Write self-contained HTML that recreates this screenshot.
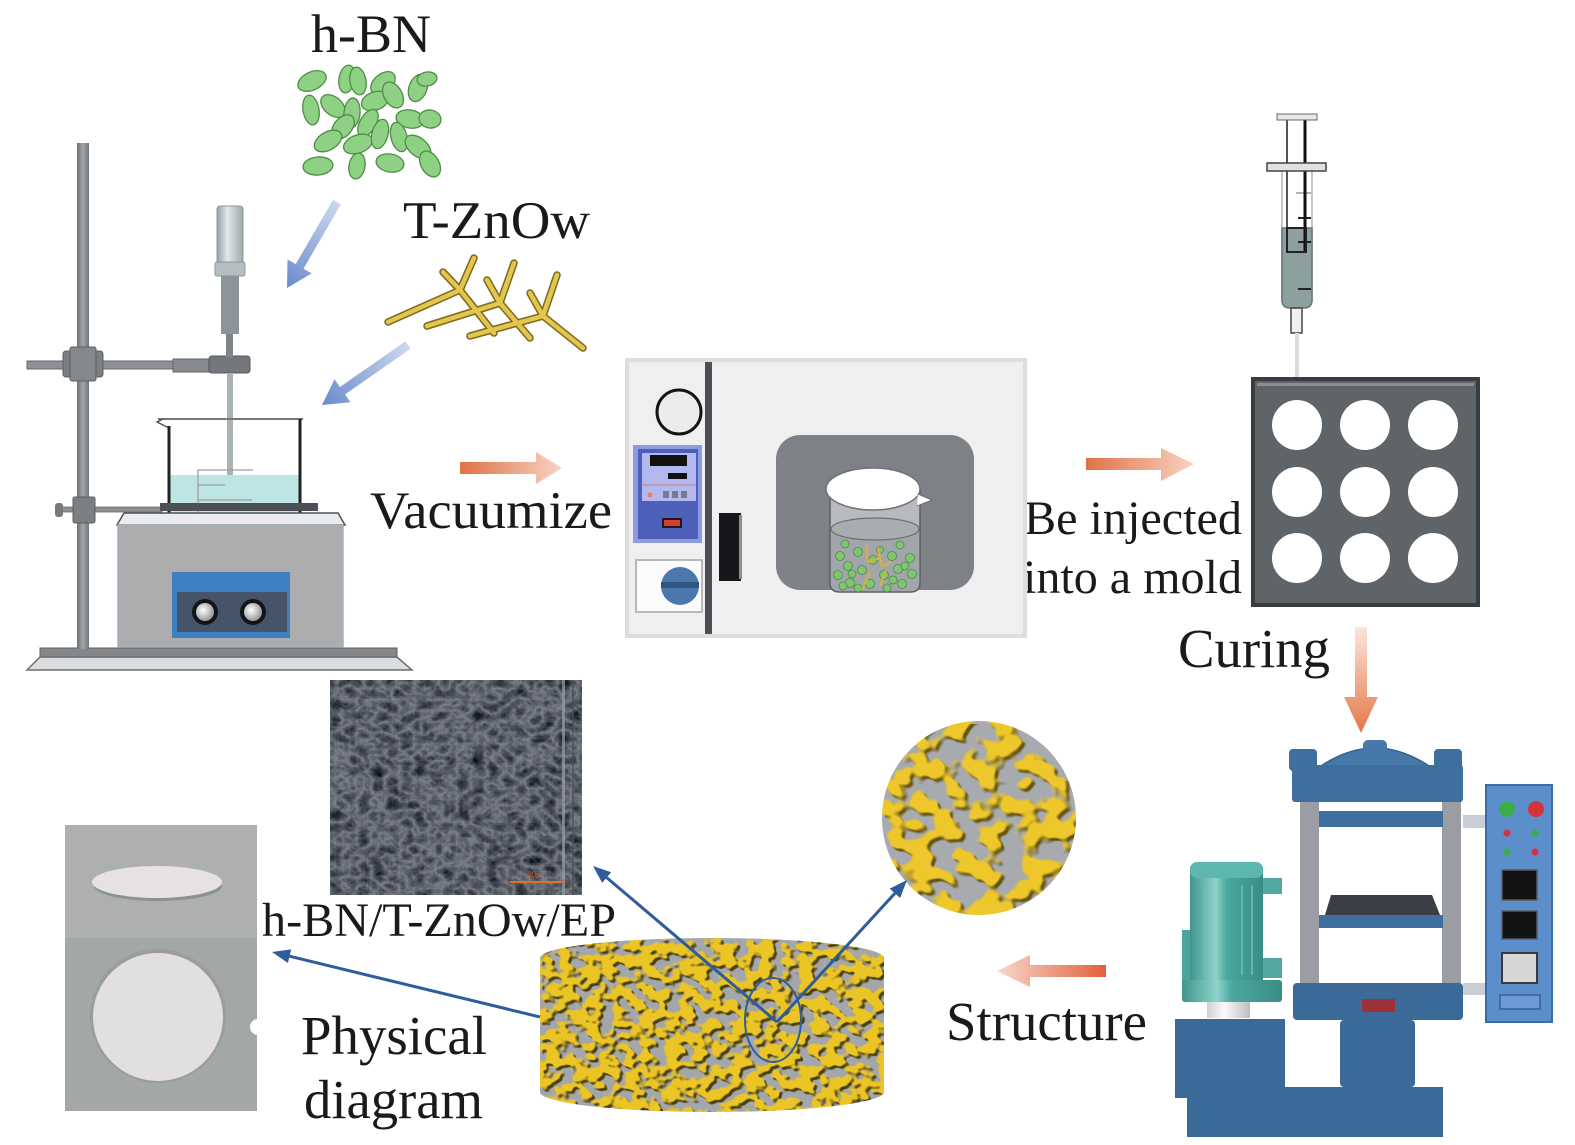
<!DOCTYPE html>
<html>
<head>
<meta charset="utf-8">
<style>
  html,body{margin:0;padding:0;background:#fff;}
  svg{display:block;}
  text{font-family:"Liberation Serif",serif;fill:#1a1a1a;}
</style>
</head>
<body>
<svg width="1575" height="1145" viewBox="0 0 1575 1145" xmlns="http://www.w3.org/2000/svg">
<defs>
  <linearGradient id="orR" x1="0" x2="1" y1="0" y2="0">
    <stop offset="0" stop-color="#e07246"/><stop offset="1" stop-color="#f7d3c3"/>
  </linearGradient>
  <linearGradient id="orL" x1="0" x2="1" y1="0" y2="0">
    <stop offset="0" stop-color="#f8d8ca"/><stop offset="1" stop-color="#e2603c"/>
  </linearGradient>
  <linearGradient id="orD" x1="0" x2="0" y1="0" y2="1">
    <stop offset="0" stop-color="#fbe6dc"/><stop offset="1" stop-color="#e4764a"/>
  </linearGradient>
  <linearGradient id="blA" gradientUnits="userSpaceOnUse" x1="337" y1="202" x2="287" y2="288">
    <stop offset="0" stop-color="#ccd8f0"/><stop offset="1" stop-color="#6a8bcc"/>
  </linearGradient>
  <linearGradient id="blB" gradientUnits="userSpaceOnUse" x1="408" y1="345" x2="322" y2="405">
    <stop offset="0" stop-color="#ccd8f0"/><stop offset="1" stop-color="#6a8bcc"/>
  </linearGradient>
  <linearGradient id="stir" x1="0" x2="1" y1="0" y2="0">
    <stop offset="0" stop-color="#97a1a5"/><stop offset="0.4" stop-color="#e2e8e9"/><stop offset="1" stop-color="#9ea8ab"/>
  </linearGradient>
  <linearGradient id="rod" x1="0" x2="1" y1="0" y2="0">
    <stop offset="0" stop-color="#6e7175"/><stop offset="0.5" stop-color="#a3a6a9"/><stop offset="1" stop-color="#727579"/>
  </linearGradient>
  <linearGradient id="motor" x1="0" x2="1" y1="0" y2="0">
    <stop offset="0" stop-color="#3f958c"/><stop offset="0.35" stop-color="#8fd3ca"/><stop offset="0.5" stop-color="#4aa89e"/><stop offset="1" stop-color="#3a8d85"/>
  </linearGradient>
  <linearGradient id="wbase" x1="0" x2="1" y1="0" y2="0">
    <stop offset="0" stop-color="#d0d0d0"/><stop offset="0.4" stop-color="#fafafa"/><stop offset="1" stop-color="#bdbdbd"/>
  </linearGradient>
  <radialGradient id="knob" cx="0.4" cy="0.4" r="0.6">
    <stop offset="0" stop-color="#ffffff"/><stop offset="1" stop-color="#9a9a9a"/>
  </radialGradient>

  <filter id="goldA" x="0" y="0" width="100%" height="100%" color-interpolation-filters="sRGB">
    <feTurbulence type="fractalNoise" baseFrequency="0.075 0.09" numOctaves="2" seed="11" result="n"/>
    <feColorMatrix in="n" type="matrix" values="0 0 0 0 0.92  0 0 0 0 0.77  0 0 0 0 0.15  11 0 0 0 -4.85" result="g"/>
    <feColorMatrix in="n" type="matrix" values="0 0 0 0 0.30  0 0 0 0 0.25  0 0 0 0 0.04  11 0 0 0 -4.85" result="d"/>
    <feOffset in="d" dx="2.5" dy="2.5" result="ds"/>
    <feFlood flood-color="#a3a6ab" result="bg"/>
    <feMerge result="m"><feMergeNode in="bg"/><feMergeNode in="ds"/><feMergeNode in="g"/></feMerge>
    <feComposite in="m" in2="SourceGraphic" operator="in"/>
  </filter>
  <filter id="goldB" x="0" y="0" width="100%" height="100%" color-interpolation-filters="sRGB">
    <feTurbulence type="fractalNoise" baseFrequency="0.045 0.05" numOctaves="2" seed="5" result="n"/>
    <feColorMatrix in="n" type="matrix" values="0 0 0 0 0.93  0 0 0 0 0.78  0 0 0 0 0.17  11 0 0 0 -5.2" result="g"/>
    <feColorMatrix in="n" type="matrix" values="0 0 0 0 0.40  0 0 0 0 0.33  0 0 0 0 0.05  11 0 0 0 -5.2" result="d"/>
    <feOffset in="d" dx="3" dy="3" result="ds"/>
    <feFlood flood-color="#a7aaae" result="bg"/>
    <feMerge result="m"><feMergeNode in="bg"/><feMergeNode in="ds"/><feMergeNode in="g"/></feMerge>
    <feComposite in="m" in2="SourceGraphic" operator="in"/>
  </filter>
  <filter id="sem" x="0" y="0" width="100%" height="100%" color-interpolation-filters="sRGB">
    <feTurbulence type="turbulence" baseFrequency="0.07 0.09" numOctaves="4" seed="3" result="n"/>
    <feColorMatrix in="n" type="matrix" values="-0.55 0 0 0 0.52  -0.55 0 0 0 0.54  -0.55 0 0 0 0.58  0 0 0 0 1" result="c"/>
    <feComposite in="c" in2="SourceGraphic" operator="in"/>
  </filter>
</defs>

<rect x="0" y="0" width="1575" height="1145" fill="#ffffff"/>

<!-- ================= TEXT LABELS ================= -->
<text x="311" y="52" font-size="54" textLength="120" lengthAdjust="spacingAndGlyphs">h-BN</text>
<text x="403" y="238" font-size="53" textLength="187" lengthAdjust="spacingAndGlyphs">T-ZnOw</text>
<text x="370" y="528" font-size="53" textLength="242" lengthAdjust="spacingAndGlyphs">Vacuumize</text>
<text x="1024" y="534" font-size="48" textLength="218" lengthAdjust="spacingAndGlyphs">Be injected</text>
<text x="1023" y="593" font-size="48" textLength="219" lengthAdjust="spacingAndGlyphs">into a mold</text>
<text x="1178" y="667" font-size="55" textLength="152" lengthAdjust="spacingAndGlyphs">Curing</text>
<text x="262" y="936" font-size="48" textLength="354" lengthAdjust="spacingAndGlyphs">h-BN/T-ZnOw/EP</text>
<text x="946" y="1040" font-size="55" textLength="201" lengthAdjust="spacingAndGlyphs">Structure</text>
<text x="301" y="1054" font-size="55" textLength="186" lengthAdjust="spacingAndGlyphs">Physical</text>
<text x="304" y="1118" font-size="55" textLength="179" lengthAdjust="spacingAndGlyphs">diagram</text>

<!-- ================= h-BN particles ================= -->
<g fill="#8fd184" stroke="#4f8c46" stroke-width="1.3">
  <ellipse cx="312" cy="81" rx="15" ry="9" transform="rotate(-25 312 81)"/>
  <ellipse cx="347" cy="79" rx="8" ry="14" transform="rotate(10 347 79)"/>
  <ellipse cx="358" cy="81" rx="8" ry="14" transform="rotate(-10 358 81)"/>
  <ellipse cx="383" cy="83" rx="14" ry="9" transform="rotate(-40 383 83)"/>
  <ellipse cx="418" cy="88" rx="9" ry="14" transform="rotate(20 418 88)"/>
  <ellipse cx="427" cy="79" rx="10" ry="7" transform="rotate(-10 427 79)"/>
  <ellipse cx="311" cy="110" rx="8" ry="15" transform="rotate(-10 311 110)"/>
  <ellipse cx="333" cy="106" rx="14" ry="9" transform="rotate(40 333 106)"/>
  <ellipse cx="352" cy="113" rx="8" ry="15" transform="rotate(5 352 113)"/>
  <ellipse cx="375" cy="101" rx="14" ry="9" transform="rotate(-20 375 101)"/>
  <ellipse cx="393" cy="95" rx="9" ry="14" transform="rotate(-30 393 95)"/>
  <ellipse cx="368" cy="123" rx="8" ry="15" transform="rotate(30 368 123)"/>
  <ellipse cx="343" cy="127" rx="14" ry="9" transform="rotate(-50 343 127)"/>
  <ellipse cx="410" cy="119" rx="14" ry="9" transform="rotate(10 410 119)"/>
  <ellipse cx="430" cy="119" rx="11" ry="9" transform="rotate(10 430 119)"/>
  <ellipse cx="328" cy="141" rx="15" ry="9" transform="rotate(-30 328 141)"/>
  <ellipse cx="358" cy="144" rx="15" ry="9" transform="rotate(-20 358 144)"/>
  <ellipse cx="380" cy="134" rx="8" ry="15" transform="rotate(15 380 134)"/>
  <ellipse cx="399" cy="137" rx="8" ry="15" transform="rotate(-15 399 137)"/>
  <ellipse cx="418" cy="147" rx="15" ry="9" transform="rotate(40 418 147)"/>
  <ellipse cx="318" cy="166" rx="15" ry="9" transform="rotate(-5 318 166)"/>
  <ellipse cx="357" cy="166" rx="8" ry="13" transform="rotate(10 357 166)"/>
  <ellipse cx="390" cy="163" rx="14" ry="9" transform="rotate(10 390 163)"/>
  <ellipse cx="430" cy="164" rx="9" ry="14" transform="rotate(-30 430 164)"/>
</g>

<!-- ================= T-ZnOw tetrapods ================= -->
<g stroke-linecap="round">
  <g stroke="#7e6a1c" stroke-width="7.5">
    <line x1="388" y1="322" x2="460" y2="290"/><line x1="460" y1="290" x2="474" y2="258"/><line x1="460" y1="290" x2="443" y2="272"/><line x1="460" y1="290" x2="494" y2="333"/>
    <line x1="427" y1="326" x2="500" y2="303"/><line x1="500" y1="303" x2="514" y2="263"/><line x1="500" y1="303" x2="487" y2="280"/><line x1="500" y1="303" x2="530" y2="338"/>
    <line x1="470" y1="336" x2="543" y2="316"/><line x1="543" y1="316" x2="557" y2="275"/><line x1="543" y1="316" x2="530" y2="293"/><line x1="543" y1="316" x2="583" y2="348"/>
  </g>
  <g stroke="#e3c650" stroke-width="4.5">
    <line x1="388" y1="322" x2="460" y2="290"/><line x1="460" y1="290" x2="474" y2="258"/><line x1="460" y1="290" x2="443" y2="272"/><line x1="460" y1="290" x2="494" y2="333"/>
    <line x1="427" y1="326" x2="500" y2="303"/><line x1="500" y1="303" x2="514" y2="263"/><line x1="500" y1="303" x2="487" y2="280"/><line x1="500" y1="303" x2="530" y2="338"/>
    <line x1="470" y1="336" x2="543" y2="316"/><line x1="543" y1="316" x2="557" y2="275"/><line x1="543" y1="316" x2="530" y2="293"/><line x1="543" y1="316" x2="583" y2="348"/>
  </g>
</g>

<!-- light blue arrows -->
<polygon points="333.1,199.7 340.9,204.3 303.5,268.7 311.7,273.4 287,288 287.5,259.4 295.7,264.1" fill="url(#blA)"/>
<polygon points="405.4,341.3 410.6,348.7 345.1,394.4 350.5,402.2 322,405 334.5,379.2 339.9,387.0" fill="url(#blB)"/>

<!-- ================= LEFT APPARATUS ================= -->
<path d="M40,657 L27,670 L412,670 L397,657 Z" fill="#dcddde" stroke="#6b6e71" stroke-width="1.5"/>
<rect x="40" y="648" width="357" height="9" fill="#85888b" stroke="#5f6265" stroke-width="1"/>
<rect x="77" y="143" width="12" height="506" fill="url(#rod)"/>
<rect x="27" y="361" width="150" height="8" fill="#8c8f93" stroke="#676a6e" stroke-width="1"/>
<rect x="63" y="351" width="40" height="26" rx="3" fill="#7b7e82" stroke="#5c5f63" stroke-width="1"/>
<rect x="70" y="347" width="26" height="34" rx="2" fill="#85888c" stroke="#5c5f63" stroke-width="1"/>
<rect x="173" y="359" width="40" height="13" fill="#86898d" stroke="#626569" stroke-width="1"/>
<rect x="209" y="356" width="41" height="17" rx="3" fill="#74777b" stroke="#55585c" stroke-width="1"/>
<rect x="217" y="206" width="26" height="58" rx="3" fill="url(#stir)" stroke="#8d979a" stroke-width="1"/>
<rect x="215" y="262" width="30" height="14" rx="2" fill="#b5bdc0" stroke="#8d979a" stroke-width="1"/>
<rect x="221" y="276" width="18" height="58" fill="#8c969a"/>
<rect x="226" y="334" width="7" height="24" fill="#7e8589"/>
<rect x="227" y="373" width="6" height="150" fill="#aab1b4"/>
<rect x="170" y="475" width="130" height="48" fill="#bde5e3"/>
<path d="M158,419 L303,419" stroke="#777" stroke-width="2"/>
<path d="M163,419 L157,422 L169,428" fill="none" stroke="#555" stroke-width="1.5"/>
<line x1="169" y1="426" x2="169" y2="523" stroke="#222" stroke-width="3"/>
<line x1="300" y1="419" x2="300" y2="523" stroke="#222" stroke-width="3"/>
<g stroke="#9a9c9e" stroke-width="1.2" fill="none">
  <path d="M198,520 L198,470 L253,470"/><path d="M198,485 L225,485"/><path d="M198,500 L252,500"/>
</g>
<rect x="62" y="507" width="100" height="5" fill="#8c8f93" stroke="#676a6e" stroke-width="0.8"/>
<rect x="55" y="503" width="8" height="14" rx="3" fill="#76797d"/>
<rect x="73" y="497" width="22" height="26" rx="2" fill="#7b7e82" stroke="#5c5f63" stroke-width="1"/>
<rect x="160" y="503" width="158" height="8" fill="#4c4f53"/>
<path d="M117,525 L124,513 L338,513 L345,525 Z" fill="#ececec" stroke="#4e5155" stroke-width="1.5"/>
<rect x="118" y="525" width="225" height="122" fill="#adadae" stroke="#9fb0c2" stroke-width="1.5"/>
<rect x="172" y="572" width="118" height="66" fill="#3f80c2"/>
<rect x="177" y="592" width="110" height="40" fill="#46546a"/>
<circle cx="205" cy="612" r="13" fill="#151515"/>
<circle cx="205" cy="612" r="9" fill="url(#knob)"/>
<circle cx="253" cy="612" r="13" fill="#151515"/>
<circle cx="253" cy="612" r="9" fill="url(#knob)"/>

<polygon points="460,462 536,462 536,452 562,468 536,484 536,474 460,474" fill="url(#orR)"/>

<!-- ================= OVEN ================= -->
<rect x="627" y="360" width="398" height="276" fill="#efefef" stroke="#dedede" stroke-width="4"/>
<rect x="705" y="362" width="7" height="272" fill="#4b4e53"/>
<circle cx="679" cy="412" r="22" fill="#ececec" stroke="#141414" stroke-width="3"/>
<rect x="633" y="445" width="69" height="98" fill="#8e9be0"/>
<rect x="638" y="449" width="60" height="90" fill="#4d5fb9"/>
<rect x="642" y="453" width="54" height="48" fill="#b3b9ee"/>
<rect x="650" y="455" width="37" height="11" fill="#121212"/>
<rect x="668" y="473" width="19" height="6" fill="#121212"/>
<line x1="642" y1="485" x2="696" y2="485" stroke="#c77a80" stroke-width="1"/>
<circle cx="650" cy="495" r="2.5" fill="#e88060"/>
<rect x="663" y="491" width="6" height="7" fill="#777a90"/><rect x="672" y="491" width="6" height="7" fill="#777a90"/><rect x="681" y="491" width="6" height="7" fill="#777a90"/>
<rect x="662" y="518" width="20" height="10" fill="#1a1a1a"/>
<rect x="664" y="520" width="16" height="6" fill="#d83a3a"/>
<rect x="636" y="560" width="66" height="52" fill="#fbfbfb" stroke="#b9b9b9" stroke-width="2"/>
<circle cx="680" cy="586" r="19" fill="#4a77ae"/>
<rect x="661" y="582" width="38" height="6" fill="#2f5680"/>
<rect x="719" y="513" width="22" height="68" fill="#15171b"/>
<rect x="739" y="515" width="3" height="64" fill="#8b8e92"/>
<rect x="776" y="435" width="198" height="155" rx="24" fill="#7e8186"/>
<path d="M830,490 L830,583 Q830,592 840,592 L910,592 Q920,592 920,583 L920,490 Z" fill="#b8babd" stroke="#5b5e63" stroke-width="1.5"/>
<path d="M831,529 L831,583 Q831,591 840,591 L910,591 Q919,591 919,583 L919,529 Z" fill="#a2a5a9"/>
<ellipse cx="875" cy="529" rx="44" ry="11" fill="#aaadb0" stroke="#6b6e73" stroke-width="1.2"/>
<g fill="#80c672" stroke="#4d8b45" stroke-width="0.8">
  <circle cx="840" cy="556" r="4.5"/><circle cx="848" cy="566" r="4.5"/><circle cx="838" cy="575" r="4.5"/><circle cx="850" cy="583" r="4.5"/>
  <circle cx="858" cy="552" r="4.5"/><circle cx="862" cy="570" r="4.5"/><circle cx="870" cy="584" r="4.5"/><circle cx="873" cy="560" r="4.5"/>
  <circle cx="884" cy="575" r="4.5"/><circle cx="892" cy="556" r="4.5"/><circle cx="898" cy="569" r="4.5"/><circle cx="902" cy="584" r="4.5"/>
  <circle cx="910" cy="558" r="4.5"/><circle cx="912" cy="574" r="4.5"/><circle cx="845" cy="544" r="4"/><circle cx="900" cy="545" r="4"/>
  <circle cx="858" cy="588" r="4"/><circle cx="887" cy="588" r="4"/><circle cx="852" cy="574" r="4"/><circle cx="893" cy="580" r="4"/>
  <circle cx="843" cy="586" r="4"/><circle cx="905" cy="566" r="4"/><circle cx="880" cy="550" r="3.5"/>
</g>
<g stroke="#d9b23a" stroke-width="2" fill="none">
  <path d="M866,545 L868,562 L880,558"/><path d="M878,548 L882,566 L892,562"/><path d="M870,572 L862,590"/><path d="M886,570 L880,586"/>
</g>
<ellipse cx="873" cy="489" rx="47" ry="21" fill="#ffffff" stroke="#6f7277" stroke-width="1.5"/>
<path d="M918,494 L932,500 L917,506" fill="#ffffff" stroke="#6f7277" stroke-width="1.2"/>

<polygon points="1086,458 1161,458 1161,448 1194,464 1161,481 1161,470 1086,470" fill="url(#orR)"/>

<!-- ================= SYRINGE ================= -->
<line x1="1282" y1="171" x2="1282" y2="302" stroke="#c6c6c6" stroke-width="2"/>
<line x1="1312" y1="171" x2="1312" y2="302" stroke="#c6c6c6" stroke-width="2"/>
<path d="M1282,228 L1312,228 L1312,300 Q1312,308 1304,308 L1290,308 Q1282,308 1282,300 Z" fill="#8ca09e" stroke="#64777a" stroke-width="1.5"/>
<g stroke="#9a9a9a" stroke-width="1.5">
  <line x1="1296" y1="193" x2="1311" y2="193"/><line x1="1296" y1="265" x2="1311" y2="265"/>
</g>
<g stroke="#222" stroke-width="2">
  <line x1="1298" y1="218" x2="1311" y2="218"/><line x1="1298" y1="242" x2="1311" y2="242"/><line x1="1298" y1="289" x2="1311" y2="289"/>
</g>
<line x1="1287" y1="120" x2="1287" y2="252" stroke="#555" stroke-width="2"/>
<line x1="1305" y1="120" x2="1305" y2="252" stroke="#111" stroke-width="3"/>
<rect x="1287" y="228" width="19" height="24" fill="none" stroke="#222" stroke-width="2"/>
<rect x="1277" y="114" width="40" height="6" fill="#e8e8e8" stroke="#666" stroke-width="1"/>
<rect x="1267" y="163" width="59" height="8" fill="#e2e2e2" stroke="#444" stroke-width="1.5"/>
<rect x="1291" y="308" width="11" height="25" fill="#f0f0f0" stroke="#444" stroke-width="1.5"/>
<rect x="1295" y="333" width="4" height="46" fill="#dcdcdc"/>

<!-- ================= MOLD ================= -->
<rect x="1253" y="379" width="225" height="226" fill="#5f6469" stroke="#393c40" stroke-width="4"/>
<rect x="1257" y="383" width="217" height="3" fill="#8a8f94"/>
<g fill="#ffffff">
  <circle cx="1297" cy="425" r="25"/><circle cx="1365" cy="425" r="25"/><circle cx="1433" cy="425" r="25"/>
  <circle cx="1297" cy="492" r="25"/><circle cx="1365" cy="492" r="25"/><circle cx="1433" cy="492" r="25"/>
  <circle cx="1297" cy="558" r="25"/><circle cx="1365" cy="558" r="25"/><circle cx="1433" cy="558" r="25"/>
</g>

<polygon points="1355,627 1367,627 1367,697 1378,697 1361,733 1344,697 1355,697" fill="url(#orD)"/>

<!-- ================= PRESS ================= -->
<rect x="1300" y="797" width="19" height="190" fill="#9a9ea4"/>
<rect x="1442" y="797" width="19" height="190" fill="#9a9ea4"/>
<path d="M1318,768 Q1375,728 1432,768 Z" fill="#4678aa" stroke="#35618d" stroke-width="1.5"/>
<rect x="1363" y="740" width="24" height="14" rx="5" fill="#4678aa"/>
<rect x="1292" y="765" width="171" height="37" rx="3" fill="#3e6f9f"/>
<rect x="1289" y="749" width="28" height="22" rx="4" fill="#3e6f9f"/>
<rect x="1434" y="749" width="28" height="22" rx="4" fill="#3e6f9f"/>
<rect x="1319" y="811" width="124" height="16" fill="#3e6f9f"/>
<path d="M1325,915 L1331,895 L1432,895 L1440,915 Z" fill="#3a3f46"/>
<rect x="1319" y="915" width="124" height="13" fill="#3e6f9f"/>
<rect x="1463" y="815" width="23" height="13" fill="#c9ced7"/>
<rect x="1463" y="983" width="23" height="12" fill="#c9ced7"/>
<rect x="1293" y="983" width="170" height="37" rx="4" fill="#3b6a98"/>
<rect x="1362" y="999" width="33" height="13" fill="#9e3136"/>
<rect x="1340" y="1020" width="75" height="67" rx="4" fill="#3b6a98"/>
<rect x="1175" y="1019" width="110" height="79" fill="#3b6a98"/>
<rect x="1187" y="1087" width="256" height="50" fill="#3b6a98"/>
<rect x="1486" y="785" width="66" height="237" fill="#5b8ecb" stroke="#3c6ca6" stroke-width="2"/>
<circle cx="1507" cy="809" r="8" fill="#3aae48"/>
<circle cx="1536" cy="809" r="8" fill="#d3333b"/>
<circle cx="1507" cy="833" r="3.5" fill="#d3333b"/><circle cx="1535" cy="833" r="3.5" fill="#3aae48"/>
<circle cx="1507" cy="852" r="3.5" fill="#3aae48"/><circle cx="1535" cy="852" r="3.5" fill="#d3333b"/>
<rect x="1502" y="870" width="35" height="30" fill="#131313" stroke="#5a5a5a" stroke-width="1.5"/>
<rect x="1502" y="911" width="35" height="28" fill="#131313" stroke="#5a5a5a" stroke-width="1.5"/>
<rect x="1502" y="953" width="35" height="30" fill="#d5d6d8" stroke="#3a3a3a" stroke-width="2"/>
<rect x="1500" y="995" width="40" height="14" fill="#6c9bd8" stroke="#3a5e90" stroke-width="1.5"/>
<rect x="1182" y="930" width="10" height="52" fill="#4aa69c"/>
<rect x="1262" y="878" width="20" height="16" fill="#52a99f"/>
<rect x="1262" y="958" width="20" height="20" fill="#52a99f"/>
<rect x="1190" y="867" width="73" height="113" fill="url(#motor)"/>
<g stroke="#6cc2b8" stroke-width="1.5"><line x1="1205" y1="885" x2="1205" y2="975"/><line x1="1242" y1="885" x2="1242" y2="975"/><line x1="1252" y1="885" x2="1252" y2="975"/></g>
<rect x="1190" y="862" width="73" height="16" rx="7" fill="#5db7ad"/>
<rect x="1182" y="980" width="100" height="22" rx="3" fill="url(#motor)"/>
<rect x="1207" y="1002" width="43" height="16" fill="url(#wbase)"/>

<polygon points="1106,965 1030,965 1030,955 997,971 1030,987 1030,977 1106,977" fill="url(#orL)"/>

<!-- ================= ZOOM CIRCLE ================= -->
<circle cx="979" cy="818" r="97" fill="#a7aaae" filter="url(#goldB)"/>

<!-- ================= CYLINDER ================= -->
<path d="M540,958 A172,20 0 0 1 884,958 L884,1092 A172,20 0 0 1 540,1092 Z" fill="#a3a6ab" filter="url(#goldA)"/>
<ellipse cx="773" cy="1020" rx="28" ry="42" fill="none" stroke="#2f5fa0" stroke-width="2"/>

<!-- ================= SEM IMAGE ================= -->
<rect x="330" y="680" width="252" height="215" fill="#5d636b" filter="url(#sem)"/>
<rect x="562" y="680" width="3" height="215" fill="#9aa0a6" opacity="0.7"/>
<rect x="572" y="680" width="2" height="215" fill="#4c5056" opacity="0.7"/>
<line x1="510" y1="882" x2="565" y2="882" stroke="#e07030" stroke-width="2"/>
<text x="528" y="877" font-size="8" style="fill:#e07030">20μm</text>

<!-- ================= PHOTO ================= -->
<rect x="65" y="825" width="192" height="286" fill="#a3a7a6"/>
<rect x="65" y="825" width="192" height="113" fill="#adb0af"/>
<ellipse cx="158" cy="886" rx="64" ry="15" fill="#8e9191"/>
<ellipse cx="157" cy="882" rx="65" ry="16" fill="#e6e1e2"/>
<ellipse cx="158" cy="1016" rx="68" ry="67" fill="#9a9d9d"/>
<ellipse cx="158" cy="1017" rx="65" ry="64" fill="#e2dfe0"/>
<circle cx="258" cy="1027" r="8" fill="#ffffff"/>

<!-- ================= DARK BLUE ARROWS ================= -->
<g stroke="#2f5d9c" stroke-width="3" fill="none">
  <line x1="540" y1="1017" x2="289.5" y2="956.2"/>
  <line x1="777" y1="1022" x2="606.7" y2="877.6"/>
  <line x1="777" y1="1022" x2="894.9" y2="893.3"/>
</g>
<g fill="#2f5d9c">
  <polygon points="272,952 291.2,949.4 287.9,963.0"/>
  <polygon points="593,866 611.2,872.3 602.2,882.9"/>
  <polygon points="907,880 900.1,898.0 889.7,888.6"/>
</g>
</svg>
</body>
</html>
